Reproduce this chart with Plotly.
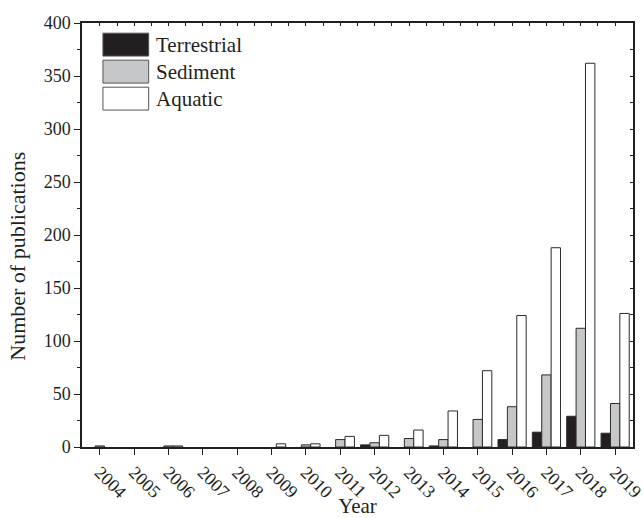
import plotly.graph_objects as go

years = [str(y) for y in range(2004, 2020)]
terrestrial = [0, 0, 0, 0, 0, 0, 0, 0, 2, 0, 1, 0, 7, 14, 29, 13]
sediment = [1, 0, 1, 0, 0, 0, 2, 7, 4, 8, 7, 26, 38, 68, 112, 41]
aquatic = [0, 0, 1, 0, 0, 3, 3, 10, 11, 16, 34, 72, 124, 188, 362, 126]

series = [
    ("Terrestrial", terrestrial, "#231f20"),
    ("Sediment", sediment, "#c6c7c9"),
    ("Aquatic", aquatic, "#ffffff"),
]

FONT = "Liberation Serif"
INK = "#231f20"
fig = go.Figure()
for name, vals, col in series:
    fig.add_trace(go.Bar(
        x=years, y=[v if v else None for v in vals], name=name,
        marker=dict(color=col, line=dict(color="#2b2b2b", width=1)),
        showlegend=False,
    ))

# invisible trace carrying the mirrored (inside-tick) axes
fig.add_trace(go.Scatter(x=[0], y=[0], xaxis="x2", yaxis="y2", mode="markers",
                         marker=dict(opacity=0), showlegend=False, hoverinfo="skip"))

fig.update_layout(
    width=643, height=518,
    margin=dict(l=82, r=10, t=23, b=71, autoexpand=False),
    paper_bgcolor="white", plot_bgcolor="white",
    barmode="group", bargap=0.18, bargroupgap=0,
    font=dict(family=FONT, color=INK),
    xaxis=dict(
        type="category", range=[-0.52, 15.52], automargin=False,
        showline=True, linecolor=INK, linewidth=1.5,
        ticks="outside", ticklen=6, tickwidth=1.3, tickcolor=INK,
        tickangle=45, tickfont=dict(size=18, family=FONT, color=INK),
        title=dict(text="Year", font=dict(size=21, family=FONT, color=INK), standoff=6),
        showgrid=False, zeroline=False,
    ),
    yaxis=dict(
        range=[0, 400], dtick=50, automargin=False,
        showline=True, linecolor=INK, linewidth=1.5,
        ticks="outside", ticklen=6, tickwidth=1.3, tickcolor=INK,
        minor=dict(dtick=25, ticks="outside", ticklen=3, tickwidth=1, tickcolor=INK),
        tickfont=dict(size=18, family=FONT, color=INK),
        showgrid=False, zeroline=False,
    ),
    xaxis2=dict(
        overlaying="x", side="top", range=[-0.52, 15.52], tick0=0, dtick=1, automargin=False,
        showline=True, linecolor=INK, linewidth=1.5,
        ticks="inside", ticklen=3, tickwidth=1, tickcolor=INK,
        minor=dict(dtick=0.5, ticks="inside", ticklen=3, tickwidth=1, tickcolor=INK),
        showticklabels=False, showgrid=False, zeroline=False,
    ),
    yaxis2=dict(
        overlaying="y", side="right", range=[0, 400], dtick=50, automargin=False,
        showline=True, linecolor=INK, linewidth=1.5,
        ticks="inside", ticklen=3, tickwidth=1, tickcolor=INK,
        minor=dict(dtick=25, ticks="inside", ticklen=3, tickwidth=1, tickcolor=INK),
        showticklabels=False, showgrid=False, zeroline=False,
    ),
)

# y-axis title (placed slightly below centre, as in the reference)
fig.add_annotation(xref="paper", yref="paper", x=-0.117, y=0.45,
                   text="Number of publications", textangle=-90, showarrow=False,
                   xanchor="center", yanchor="middle",
                   font=dict(size=22, family=FONT, color=INK))

# custom legend (large swatches as in the reference)
for i, (name, vals, col) in enumerate(series):
    y0 = 0.976 - i * 0.0637
    fig.add_shape(type="rect", xref="paper", yref="paper",
                  x0=0.038, x1=0.121, y0=y0 - 0.054, y1=y0,
                  fillcolor=col, line=dict(color="#555555", width=1))
    fig.add_annotation(xref="paper", yref="paper", x=0.131, y=y0 - 0.027,
                       text=name, showarrow=False, xanchor="left", yanchor="middle",
                       font=dict(size=21, family=FONT, color=INK))

# remove the default 8px page margin so the figure fills the window exactly
fig.write_html("out.html",
               config={"displayModeBar": False},
               post_script="document.body.style.margin='0';document.body.style.overflow='hidden';")
